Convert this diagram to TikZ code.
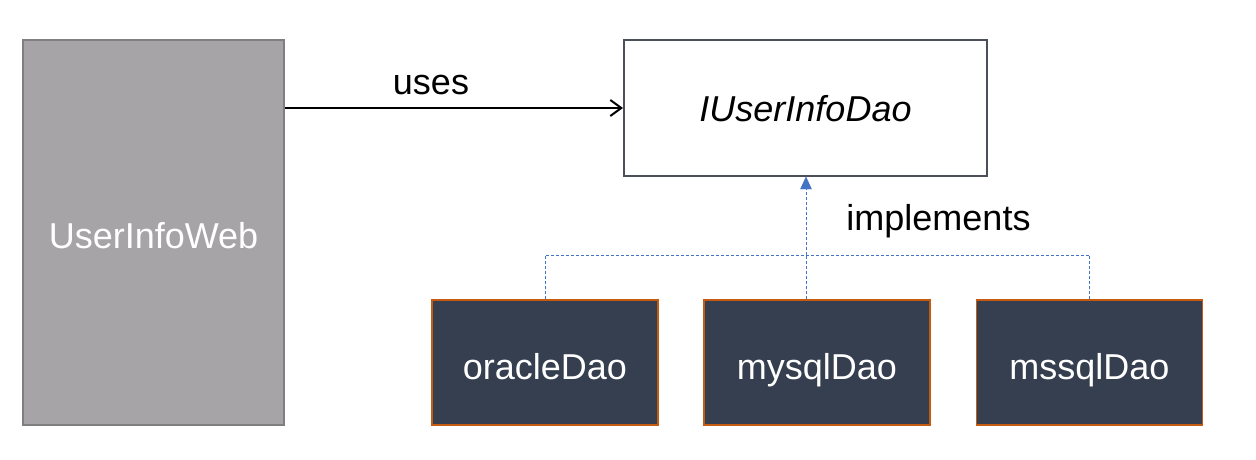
\documentclass[tikz,border=0pt]{standalone}
\usepackage{fontspec}
\setmainfont{Liberation Sans}
\usetikzlibrary{arrows.meta}
\definecolor{webfill}{HTML}{A6A4A7}
\definecolor{webline}{HTML}{7F7F7F}
\definecolor{ifline}{HTML}{4A4F59}
\definecolor{implfill}{HTML}{353F4F}
\definecolor{implline}{HTML}{C55A11}
\definecolor{dashblue}{HTML}{4472C4}
\begin{document}
\begin{tikzpicture}[x=1pt,y=-1pt,
  every node/.style={font=\fontsize{36}{40}\selectfont, inner sep=0pt},
  webbox/.style={draw=webline, line width=2pt, fill=webfill, text=white,
    minimum width=261pt, minimum height=385pt, text height=31pt, text depth=0pt},
  ifbox/.style={draw=ifline, line width=2pt, fill=white,
    minimum width=363pt, minimum height=136pt, text height=27.5pt, text depth=0pt,
    font=\fontsize{36}{40}\selectfont\itshape},
  implbox/.style={draw=implline, line width=1.5pt, fill=implfill, text=white,
    minimum width=226pt, minimum height=125pt, text height=33pt, text depth=0pt},
  useslink/.style={line width=2pt, -{Straight Barb[length=11pt,width=16pt,line width=2pt]}},
  impllink/.style={dashblue, line width=1pt, dash pattern=on 3pt off 2pt},
  label/.style={anchor=base}
]
\useasboundingbox (0,0) rectangle (1256,460);

% classes
\node[webbox] (web) at (153.5,232.5) {UserInfoWeb};
\node[ifbox] (dao) at (805.5,108) {IUserInfoDao};
\node[implbox] (ora) at (545,362.5) {oracleDao};
\node[implbox] (my) at (817,362.5) {mysqlDao};
\node[implbox] (ms) at (1089.5,362.5) {mssqlDao};

% dependency
\draw[useslink] (web.east |- dao.west) -- (dao.west);
\node[label] (usestext) at (431,95) {uses};

% realisation
\coordinate (bus) at (806,255);
\draw[impllink] (ora.north) -- (ora.north |- bus) -- (ms.north |- bus) -- (ms.north);
\draw[impllink] ([xshift=-11pt]my.north) -- (bus);
\draw[impllink] (bus) -- ([yshift=-12pt]bus |- dao.south);
\draw[dashblue, fill=dashblue] (bus |- dao.south) -- ++(-5.5,12) -- ++(11,0) -- cycle;
\node[label] (impltext) at (938.5,230) {implements};
\end{tikzpicture}
\end{document}
